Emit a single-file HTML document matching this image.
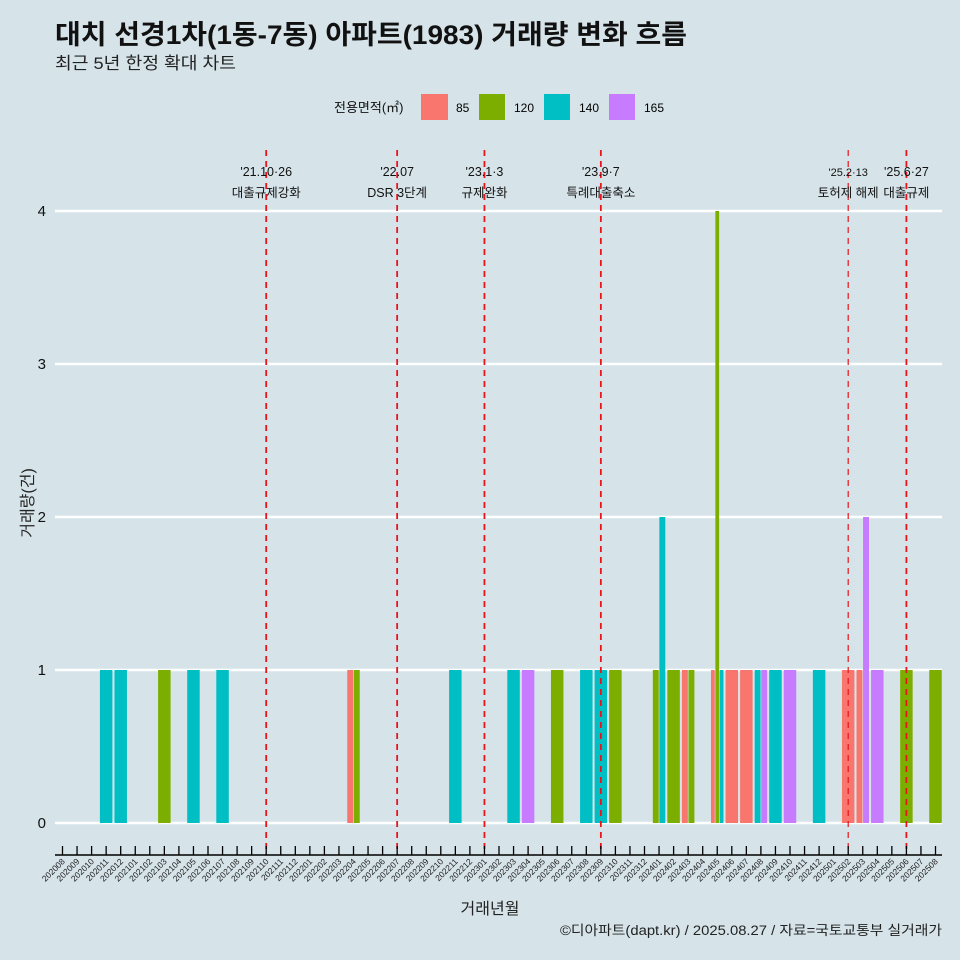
<!DOCTYPE html>
<html><head><meta charset="utf-8">
<style>
body{margin:0;background:#d6e4ea;}
svg{display:block;font-family:"Liberation Sans","Noto Sans CJK KR",sans-serif;}
</style></head>
<body>
<svg id="chart" width="960" height="960" viewBox="0 0 960 960">
<rect width="960" height="960" fill="#d6e4ea"/>
<text x="55" y="44" font-size="27" font-weight="bold" fill="#111" textLength="632" lengthAdjust="spacingAndGlyphs">대치 선경1차(1동-7동) 아파트(1983) 거래량 변화 흐름</text>
<text x="55" y="69" font-size="17" fill="#222" textLength="181" lengthAdjust="spacingAndGlyphs">최근 5년 한정 확대 차트</text>
<g>
<text x="334" y="112" font-size="13" fill="#111">전용면적(㎡)</text>
<rect x="421" y="94" width="27" height="26" fill="#f8766d"/>
<text x="456" y="112" font-size="12">85</text>
<rect x="479" y="94" width="26" height="26" fill="#7cae00"/>
<text x="514" y="112" font-size="12">120</text>
<rect x="544" y="94" width="26" height="26" fill="#00bfc4"/>
<text x="579" y="112" font-size="12">140</text>
<rect x="609" y="94" width="26" height="26" fill="#c77cff"/>
<text x="644" y="112" font-size="12">165</text>
</g>
<g id="grid"></g><g id="bars"></g><g id="events"></g><g id="xaxis"></g>
<text x="490" y="914" font-size="16" text-anchor="middle" fill="#222">거래년월</text>
<text transform="translate(33,503) rotate(-90)" font-size="16" text-anchor="middle" fill="#222">거래량(건)</text>
<text x="560" y="935" font-size="13.5" fill="#222" textLength="382" lengthAdjust="spacingAndGlyphs">©디아파트(dapt.kr) / 2025.08.27 / 자료=국토교통부 실거래가</text>
</svg>
<script>
const months=[];for(let y=2020,m=8;y*100+m<=202508;){months.push(''+y+(m<10?'0':'')+m);m++;if(m>12){m=1;y++;}}
const yTicks=[0,1,2,3,4];
const areas=['85','120','140','165'];
const colors={'85':'#f8766d','120':'#7cae00','140':'#00bfc4','165':'#c77cff'};
// [month, area, count]
const records=[
['202011','140',1],['202012','140',1],['202103','120',1],['202105','140',1],['202107','140',1],
['202204','85',1],['202204','120',1],['202211','140',1],['202303','140',1],['202304','165',1],
['202306','120',1],['202308','140',1],['202309','140',1],['202310','120',1],
['202401','120',1],['202401','140',2],['202402','120',1],['202403','85',1],['202403','120',1],
['202405','85',1],['202405','120',4],['202405','140',1],['202406','85',1],['202407','85',1],
['202408','140',1],['202408','165',1],['202409','140',1],['202410','165',1],['202412','140',1],
['202502','85',1],['202503','85',1],['202503','165',2],['202504','165',1],['202506','120',1],['202508','120',1]
];
const eventMonths=['202110','202207','202301','202309','202502','202506'];
const eventDates=["'21.10·26","'22.07","'23.1·3","'23.9·7","'25.2·13","'25.6·27"];
const eventLabels=['대출규제강화','DSR 3단계','규제완화','특례대출축소','토허제 해제','대출규제'];
const NS='http://www.w3.org/2000/svg';
const X0=62.5,STEP=14.55;
const xs=m=>X0+months.indexOf(m)*STEP;
const ys=v=>823-v*153;
function mk(parent,tag,attrs){const e=document.createElementNS(NS,tag);for(const k in attrs)e.setAttribute(k,attrs[k]);document.getElementById(parent).appendChild(e);return e;}
yTicks.forEach(t=>{
 const l=mk('grid','line',{x1:55,x2:942,y1:ys(t),y2:ys(t),stroke:'#fff','stroke-width':2.5});
 
 
 const tx=mk('grid','text',{x:46,y:ys(t)+5,'font-size':15,'text-anchor':'end',fill:'#111'});tx.textContent=t;
 
 
});
const W=STEP*0.9;
months.forEach(m=>{
 const recs=records.filter(r=>r[0]===m).sort((a,b)=>areas.indexOf(a[1])-areas.indexOf(b[1]));
 const n=recs.length;
 recs.forEach((r,i)=>{
  const w=W/n,x=xs(m)-W/2+i*w;
  const b=mk('bars','rect',{x:x+0.3,y:ys(r[2]),width:w-0.6,height:ys(0)-ys(r[2]),fill:colors[r[1]]});
  
  
 });
});
eventMonths.forEach((m,i)=>{
 const x=xs(m);
 const l=mk('events','line',{x1:x,x2:x,y1:150,y2:855,stroke:'#e8141c','stroke-width':i===4?1.2:1.8,'stroke-dasharray':'6,5'});
 
 
 const fs=i===4?11:12.5;
 const t1=mk('events','text',{x:x,y:176,'font-size':fs,'text-anchor':'middle',fill:'#111'});t1.textContent=eventDates[i];
 
 
 const t2=mk('events','text',{x:x,y:197,'font-size':12.5,'text-anchor':'middle',fill:'#111'});t2.textContent=eventLabels[i];
 
 
});
const ax=mk('xaxis','line',{x1:55,x2:942,y1:855,y2:855,stroke:'#000','stroke-width':1.5});


months.forEach(m=>{
 const x=xs(m);
 const tk=mk('xaxis','line',{x1:x,x2:x,y1:846,y2:855,stroke:'#000','stroke-width':1.3});
 
 
 const t=mk('xaxis','text',{transform:`translate(${x+3},${862}) rotate(-45)`,'font-size':8.5,'text-anchor':'end',fill:'#222'});t.textContent=m;
 
 
});
</script>
</body></html>
